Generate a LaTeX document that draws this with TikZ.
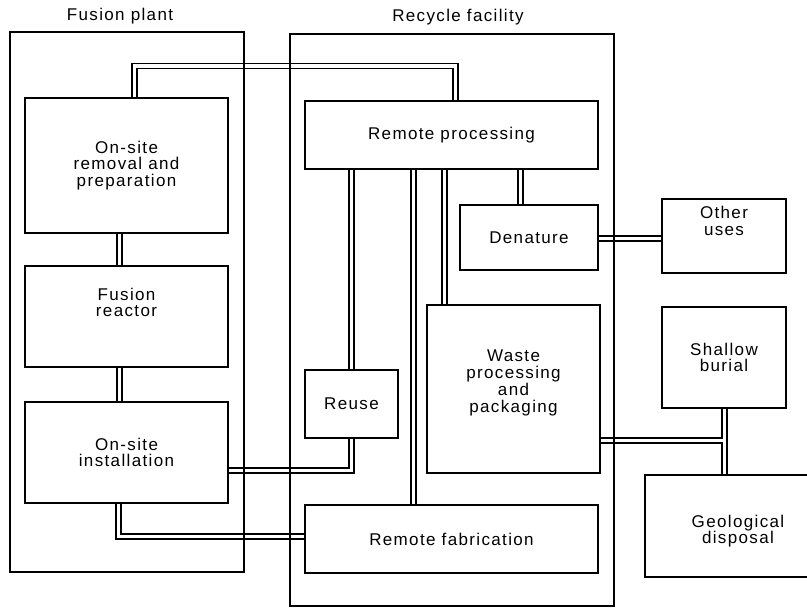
\documentclass[tikz,border=0pt]{standalone}
\usepackage{fontspec}
\newfontfamily\labfont[LetterSpace=8]{Liberation Sans}
\usetikzlibrary{calc,backgrounds}
\begin{document}
\begin{tikzpicture}[x=1pt,y=-1pt,
  every node/.style={font=\labfont\fontsize{17}{16.8}\selectfont, align=center, inner sep=0pt, outer sep=0pt},
  box/.style={draw, line width=1.8pt, anchor=north west},
  frame/.style={draw, line width=1.6pt, anchor=north west},
  dbl/.style={draw, line width=1.6pt, double=white, double distance=3.4pt},
]
\useasboundingbox (0,0) rectangle (807,611);

% titles
\node (plantlbl) at (120,16) {Fusion plant};
\node (reclbl) at (458,17) {Recycle facility};

% fusion plant boxes
\node[box, minimum width=203pt, minimum height=135pt] (rem) at (25,98) {On-site\\removal and\\preparation};
\node[box, minimum width=203pt, minimum height=101pt] (reac) at (25,266) {};
\node (reactxt) at ($(reac.center)+(0,-14)$) {Fusion\\reactor};
\node[box, minimum width=203pt, minimum height=101pt] (inst) at (25,402) {On-site\\installation};

% recycle facility boxes
\node[box, minimum width=293pt, minimum height=68pt] (proc) at (305,101) {Remote processing};
\node[box, minimum width=138pt, minimum height=65pt] (den) at (460,205) {Denature};
\node[box, minimum width=173pt, minimum height=168pt] (waste) at (427,305) {};
\node (wastetxt) at ($(waste.center)+(0,-6)$) {Waste\\processing\\and\\packaging};
\node[box, minimum width=93pt, minimum height=68pt] (reuse) at (305,370) {Reuse};
\node[box, minimum width=293pt, minimum height=68pt] (fab) at (305,505) {Remote fabrication};

% outside boxes
\node[box, minimum width=124pt, minimum height=74pt] (other) at (662,199) {};
\node (othertxt) at ($(other.center)+(0,-15)$) {Other\\uses};
\node[box, minimum width=124pt, minimum height=101pt] (shallow) at (662,307) {Shallow\\burial};
\begin{scope}
\clip (0,0) rectangle (807,611);
\node[box, minimum width=186pt, minimum height=102pt] (geo) at (645,475) {};
\end{scope}
\node (geotxt) at ($(geo.center)+(0,5)$) {Geological\\disposal};

\begin{pgfonlayer}{background}
\draw[dbl] ($(rem.north west)+(109.5,0)$) -- ++(0,-32) -| ($(proc.north west)+(150.5,0)$);
\draw[dbl] ($(rem.south west)+(94.5,0)$) -- ($(reac.north west)+(94.5,0)$);
\draw[dbl] ($(reac.south west)+(94.5,0)$) -- ($(inst.north west)+(94.5,0)$);
\draw[dbl] ($(inst.north east)+(0,68.5)$) -| ($(reuse.south west)+(46.5,0)$);
\draw[dbl] ($(reuse.north west)+(46.5,0)$) -- ($(proc.south west)+(46.5,0)$);
\draw[dbl] ($(proc.south west)+(108.5,0)$) -- ($(fab.north west)+(108.5,0)$);
\draw[dbl] ($(proc.south west)+(139.5,0)$) -- ($(waste.north west)+(17.5,0)$);
\draw[dbl] ($(proc.south west)+(215.5,0)$) -- ($(den.north west)+(60.5,0)$);
\draw[dbl] ($(den.north east)+(0,33.5)$) -- ($(other.north west)+(0,39.5)$);
\draw[dbl] ($(shallow.south west)+(62.5,0)$) -- ($(geo.north west)+(79.5,0)$);
\draw[dbl] ($(waste.north east)+(0,135.5)$) -- ($(shallow.south west)+(60.8,32.5)$);
\draw[dbl] ($(inst.south west)+(93.5,0)$) |- ($(fab.north west)+(0,31.5)$);
\node[frame, minimum width=234pt, minimum height=540pt] (plant) at (10,32) {};
\node[frame, minimum width=324pt, minimum height=572pt] (recycle) at (290,34) {};
\end{pgfonlayer}
\end{tikzpicture}
\end{document}
